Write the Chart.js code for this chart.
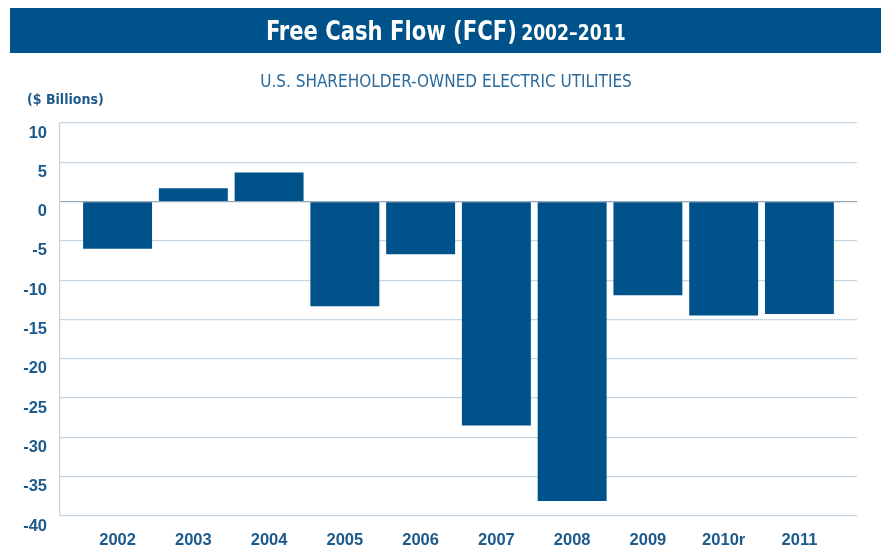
<!DOCTYPE html>
<html>
<head>
<meta charset="utf-8">
<title>Free Cash Flow (FCF) 2002–2011</title>
<script src="https://cdn.jsdelivr.net/npm/chart.js@4/dist/chart.umd.min.js"></script>
<style>
  html, body { margin: 0; padding: 0; background: #fff; }
  #page { position: relative; width: 881px; height: 550px; overflow: hidden; }
  .narrow {
    font-family: "Liberation Sans Narrow", "DejaVu Sans Condensed", "Liberation Sans", sans-serif;
    font-stretch: condensed;
  }
  #banner {
    position: absolute; left: 10px; top: 8px; width: 871px; height: 45px;
    background: #00528a; color: #fff; text-align: center;
    font-weight: bold; line-height: 46px;
  }
  #banner .inner { display: inline-block; transform: scaleX(0.87); white-space: nowrap; }
  #banner .big { font-size: 27px; }
  #banner .small { font-size: 22px; }
  #subtitle {
    position: absolute; left: 0; top: 71px; width: 892px; text-align: center;
    font-size: 17px; color: #2c6a9c;
  }
  #units {
    position: absolute; left: 27px; top: 91px;
    font-weight: bold; font-size: 14px; color: #1d5a8c;
  }
  #chart { position: absolute; left: 0; top: 0; }
</style>
</head>
<body>
<div id="page">
  <canvas id="chart" width="881" height="550"></canvas>
  <div id="banner" class="narrow"><span class="inner"><span class="big">Free Cash Flow (FCF)</span> <span class="small">2002–2011</span></span></div>
  <div id="subtitle" class="narrow">U.S. SHAREHOLDER-OWNED ELECTRIC UTILITIES</div>
  <div id="units" class="narrow">($ Billions)</div>
</div>
<script>
// FCF by year, $ billions
const years = ['2002', '2003', '2004', '2005', '2006', '2007', '2008', '2009', '2010r', '2011'];
const fcfValues = [-6.0, 1.7, 3.7, -13.3, -6.7, -28.5, -38.1, -11.9, -14.5, -14.3];
const yTicks = [10, 5, 0, -5, -10, -15, -20, -25, -30, -35, -40];

const barColor = '#00528a';
const textColor = '#1d5a8c';
const gridColor = '#c5d5e1';
const zeroColor = '#93a7b6';
const tickFont = { family: '"Liberation Sans", Arial, sans-serif', size: 16.5, weight: 'bold' };

// bars sit on a linear x axis so the grid can run past the outer categories
const points = fcfValues.map((v, i) => ({ x: i, y: v }));

new Chart(document.getElementById('chart'), {
    type: 'bar',
    data: {
        datasets: [{
            data: points,
            backgroundColor: barColor,
            borderWidth: 0,
            categoryPercentage: 1,
            barPercentage: 0.91
        }]
    },
    options: {
        responsive: false,
        animation: false,
        layout: { padding: { top: 123, right: 24, left: 0, bottom: 0 } },
        plugins: { legend: { display: false }, tooltip: { enabled: false } },
        scales: {
            x: {
                type: 'linear',
                offset: false,
                min: -0.76,
                max: 9.76,
                grid: { display: false, drawTicks: false },
                border: { display: false },
                afterFit: (scale) => { scale.height = 34; },
                afterBuildTicks: (scale) => {
                    scale.ticks = years.map((_, i) => ({ value: i }));
                },
                ticks: {
                    autoSkip: false,
                    maxRotation: 0,
                    padding: 15,
                    color: textColor,
                    font: tickFont,
                    callback: (value) => years[value] ?? ''
                }
            },
            y: {
                min: Math.min(...yTicks),
                max: Math.max(...yTicks),
                afterFit: (scale) => { scale.width = 60; },
                afterBuildTicks: (scale) => {
                    scale.ticks = yTicks.map(v => ({ value: v }));
                },
                grid: {
                    drawTicks: false,
                    lineWidth: 1.3,
                    color: (ctx) => ctx.tick && ctx.tick.value === 0 ? zeroColor : gridColor
                },
                border: { display: true, color: gridColor, width: 1.3 },
                ticks: {
                    padding: 13,
                    labelOffset: 10,
                    color: textColor,
                    font: tickFont
                }
            }
        }
    }
});
</script>
</body>
</html>
